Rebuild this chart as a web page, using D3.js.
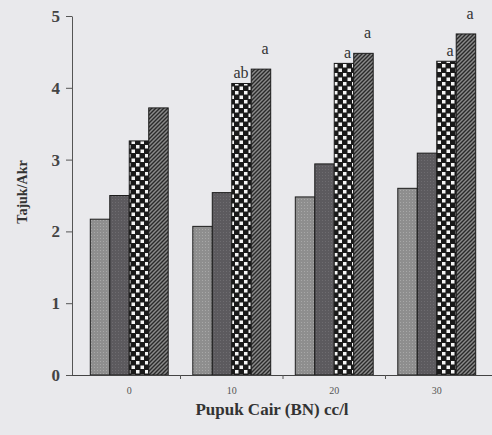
<!DOCTYPE html>
<html>
<head>
<meta charset="utf-8">
<script src="https://cdn.jsdelivr.net/npm/d3@7"></script>
<style>
  body { margin: 0; background: #e9e9ec; }
  svg { display: block; }
  svg text { font-family: "Liberation Serif", "DejaVu Serif", serif; }
</style>
</head>
<body>
<script>
// categories on x (liquid fertiliser dose) and the 4 treatments per group
var doses = ["0", "10", "20", "30"];
var series = ["s1", "s2", "s3", "s4"];

// values (Tajuk/Akr ratio)
var s1 = [2.17, 2.07, 2.48, 2.6];
var s2 = [2.5, 2.54, 2.94, 3.09];
var s3 = [3.26, 4.06, 4.34, 4.37];
var s4 = [3.72, 4.26, 4.48, 4.75];

// significance letters above bars: [dose index, series index, letter]
var letters = [
  [1, 2, "ab"], [1, 3, "a"],
  [2, 2, "a"], [2, 3, "a"],
  [3, 2, "a"], [3, 3, "a"]
];

var yTicks = [0, 1, 2, 3, 4, 5];

var width = 492, height = 435;
var svg = d3.select("body").append("svg").attr("width", width).attr("height", height);

// fill patterns
var defs = svg.append("defs");

var p1 = defs.append("pattern").attr("id", "p1").attr("patternUnits", "userSpaceOnUse")
  .attr("width", 3).attr("height", 3);
p1.append("rect").attr("width", 3).attr("height", 3).attr("fill", "#8e8e8e");
p1.append("rect").attr("x", 1).attr("y", 1).attr("width", 1).attr("height", 1).attr("fill", "#a8a8a8");

var p2 = defs.append("pattern").attr("id", "p2").attr("patternUnits", "userSpaceOnUse")
  .attr("width", 3).attr("height", 3);
p2.append("rect").attr("width", 3).attr("height", 3).attr("fill", "#5c5a5e");
p2.append("rect").attr("x", 1).attr("y", 1).attr("width", 1).attr("height", 1).attr("fill", "#6e6c70");

var p3 = defs.append("pattern").attr("id", "p3").attr("patternUnits", "userSpaceOnUse")
  .attr("width", 9).attr("height", 9);
p3.append("rect").attr("width", 9).attr("height", 9).attr("fill", "#1a1a1a");
p3.append("rect").attr("x", 1).attr("y", 1).attr("width", 3.5).attr("height", 3.5).attr("fill", "#f4f4f4");
p3.append("rect").attr("x", 5.5).attr("y", 5.5).attr("width", 3.5).attr("height", 3.5).attr("fill", "#f4f4f4");

var p4 = defs.append("pattern").attr("id", "p4").attr("patternUnits", "userSpaceOnUse")
  .attr("width", 4).attr("height", 4);
p4.append("rect").attr("width", 4).attr("height", 4).attr("fill", "#8a8a8a");
p4.append("path").attr("d", "M-1,1 l2,-2 M0,4 l4,-4 M3,5 l2,-2")
  .attr("stroke", "#2a2a2a").attr("stroke-width", 1.4);

var fills = ["url(#p1)", "url(#p2)", "url(#p3)", "url(#p4)"];

// scales
var x = d3.scaleBand().domain(doses).range([78, 488]).paddingInner(0.24).paddingOuter(0.12);
var xs = d3.scaleBand().domain(series).range([0, x.bandwidth()]);
var y = d3.scaleLinear().domain([0, 5]).range([375, 16]);

// rows for bars
var data = [];
doses.forEach(function (d, i) {
  [s1, s2, s3, s4].forEach(function (arr, j) {
    data.push({ dose: d, ser: series[j], j: j, v: arr[i] });
  });
});

svg.append("g").selectAll("rect")
  .data(data)
  .enter()
  .append("rect")
  .attr("x", function (d) { return x(d.dose) + xs(d.ser); })
  .attr("y", function (d) { return y(d.v); })
  .attr("width", xs.bandwidth())
  .attr("height", function (d) { return y(0) - y(d.v); })
  .attr("fill", function (d) { return fills[d.j]; })
  .attr("stroke", "#1c1c1c")
  .attr("stroke-width", 1);

// letters
svg.append("g").selectAll("text")
  .data(letters)
  .enter()
  .append("text")
  .attr("x", function (d) { return x(doses[d[0]]) + xs(series[d[1]]) + xs.bandwidth() / 2; })
  .attr("y", function (d) {
    var v = [s1, s2, s3, s4][d[1]][d[0]];
    return y(v) - (d[1] == 2 ? 5 : 15);
  })
  .attr("text-anchor", function (d) { return d[1] == 2 ? "end" : "middle"; })
  .attr("dx", function (d) { return d[1] == 2 ? 7 : 4; })
  .attr("font-size", 16)
  .attr("fill", "#333")
  .text(function (d) { return d[2]; });

// y axis
var yAxis = svg.append("g")
  .attr("transform", "translate(72,0)")
  .call(d3.axisLeft(y).tickValues(yTicks).tickFormat(d3.format("d")).tickSize(6).tickSizeOuter(0));
yAxis.select(".domain").attr("stroke", "#555");
yAxis.selectAll(".tick line").attr("stroke", "#555");
yAxis.selectAll("text")
  .attr("font-size", 17)
  .attr("font-weight", "bold")
  .attr("fill", "#444")
  .attr("dx", -3);

// x axis
var xAxis = svg.append("g")
  .attr("transform", "translate(0,375)")
  .call(d3.axisBottom(x).tickSize(0).tickPadding(12));
xAxis.select(".domain").attr("d", "M72,0.5H492").attr("stroke", "#444");
xAxis.selectAll("text")
  .attr("font-size", 10)
  .attr("fill", "#555");

// small ticks between groups
svg.append("g").selectAll("line")
  .data(doses.slice(1))
  .enter()
  .append("line")
  .attr("x1", function (d) { return x(d) - x.step() * x.paddingInner() / 2; })
  .attr("x2", function (d) { return x(d) - x.step() * x.paddingInner() / 2; })
  .attr("y1", 375).attr("y2", 379)
  .attr("stroke", "#555");

// axis titles
svg.append("text")
  .attr("transform", "translate(27,192) rotate(-90)")
  .attr("text-anchor", "middle")
  .attr("font-size", 14)
  .attr("font-weight", "bold")
  .attr("fill", "#333")
  .text("Tajuk/Akr");

svg.append("text")
  .attr("x", 272).attr("y", 415)
  .attr("text-anchor", "middle")
  .attr("font-size", 17)
  .attr("font-weight", "bold")
  .attr("fill", "#333")
  .text("Pupuk Cair (BN) cc/l");
</script>
</body>
</html>
